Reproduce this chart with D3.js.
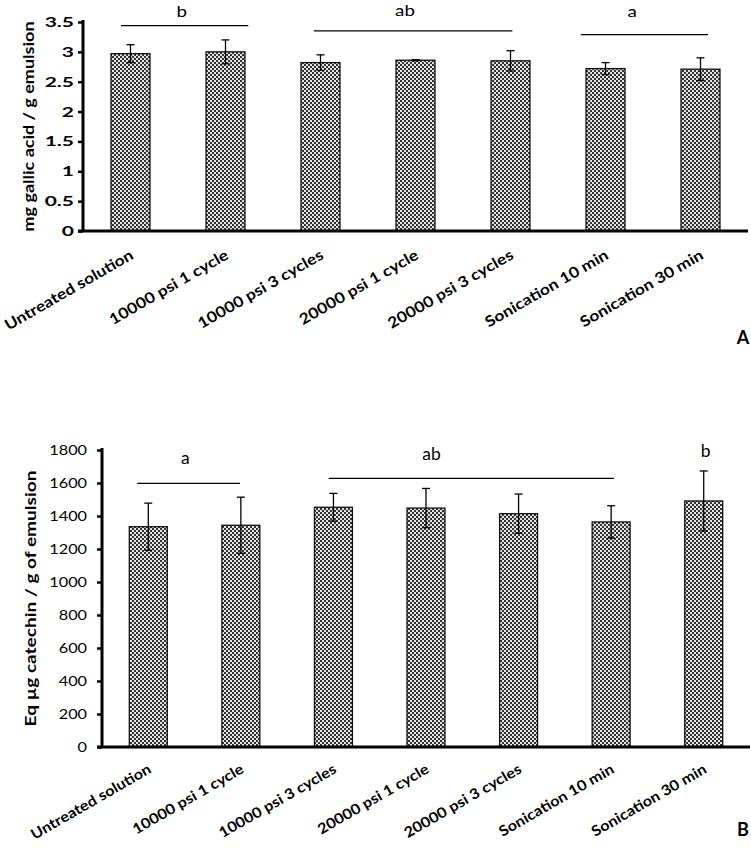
<!DOCTYPE html>
<html><head><meta charset="utf-8">
<script src="https://cdn.jsdelivr.net/npm/d3@7"></script>
<style>body{margin:0;background:#fff}svg{display:block}</style>
</head><body>
<script>
const categories = ["Untreated solution","10000 psi 1 cycle","10000 psi 3 cycles","20000 psi 1 cycle","20000 psi 3 cycles","Sonication 10 min","Sonication 30 min"];
const valuesA = [2.97, 3.00, 2.82, 2.86, 2.85, 2.72, 2.71];
const errorsA = [0.15, 0.20, 0.13, 0.01, 0.17, 0.10, 0.19];
const ticksA = [0, 0.5, 1, 1.5, 2, 2.5, 3, 3.5];
const valuesB = [1335, 1344, 1453, 1448, 1414, 1364, 1491];
const errorsB = [143, 170, 84, 119, 119, 98, 182];
const ticksB = [0, 200, 400, 600, 800, 1000, 1200, 1400, 1600, 1800];
// significance groups: fractional category index range, level (y units), label position
const sigA = [
  {label:"b", from:-0.1, to:1.24, level:3.44, tx:0.54, ty:3.58},
  {label:"ab", from:1.93, to:4.02, level:3.35, tx:2.89, ty:3.605},
  {label:"a", from:4.74, to:6.08, level:3.29, tx:5.28, ty:3.58}
];
const sigB = [
  {label:"a", from:-0.12, to:0.99, level:1598, tx:0.40, ty:1715},
  {label:"ab", from:1.95, to:5.03, level:1628, tx:3.06, ty:1739},
  {label:"b", from:null, to:null, level:null, tx:6.02, ty:1758}
];

const W = 751, H = 848;
const svg = d3.select("body").append("svg").attr("width", W).attr("height", H);
const defs = svg.append("defs");
const pat = defs.append("pattern").attr("id","chk").attr("patternUnits","userSpaceOnUse")
  .attr("width",4).attr("height",4);
pat.append("rect").attr("width",4).attr("height",4).attr("fill","#e4e4e4");
pat.append("rect").attr("x",0).attr("y",0).attr("width",2).attr("height",2).attr("fill","#333");
pat.append("rect").attr("x",2).attr("y",2).attr("width",2).attr("height",2).attr("fill","#333");

const FONT = "Lato, 'Open Sans', sans-serif";

function stretch(sel, k) {
  sel.each(function(){
    const n = this.getComputedTextLength();
    d3.select(this).attr("textLength", n*k).attr("lengthAdjust","spacingAndGlyphs");
  });
}

function panel(cfg) {
  const g = svg.append("g");
  const x = d3.scaleBand().domain(categories).range([cfg.x0, cfg.x1]).paddingInner(0.59).paddingOuter(0.295);
  const y = d3.scaleLinear().domain(cfg.domain).range([cfg.yBottom, cfg.yTop]);
  const idx = i => x(categories[0]) + x.bandwidth()/2 + i * x.step();

  // bars
  g.selectAll("rect.bar").data(cfg.values).join("rect").attr("class","bar")
    .attr("x",(d,i)=>x(categories[i])).attr("width",x.bandwidth())
    .attr("y",d=>y(d)).attr("height",d=>y(0)-y(d))
    .attr("fill","url(#chk)").attr("stroke","#111").attr("stroke-width",1.3);

  // error bars
  const eg = g.selectAll("g.err").data(cfg.values).join("g").attr("class","err")
    .attr("stroke","#000").attr("stroke-width",1.3);
  eg.append("line").attr("x1",(d,i)=>idx(i)).attr("x2",(d,i)=>idx(i))
    .attr("y1",(d,i)=>y(d+cfg.errors[i])).attr("y2",(d,i)=>y(d-cfg.errors[i]));
  eg.append("line").attr("x1",(d,i)=>idx(i)-4).attr("x2",(d,i)=>idx(i)+4)
    .attr("y1",(d,i)=>y(d+cfg.errors[i])).attr("y2",(d,i)=>y(d+cfg.errors[i]));
  eg.append("line").attr("x1",(d,i)=>idx(i)-4).attr("x2",(d,i)=>idx(i)+4)
    .attr("y1",(d,i)=>y(d-cfg.errors[i])).attr("y2",(d,i)=>y(d-cfg.errors[i]));

  // y axis
  const ya = g.append("g").attr("transform",`translate(${cfg.x0},0)`)
    .call(d3.axisLeft(y).tickValues(cfg.ticks).tickSize(5).tickPadding(cfg.tickPad).tickSizeOuter(0)
      .tickFormat(d=>String(d)));
  ya.select(".domain").remove();
  ya.selectAll(".tick line").attr("stroke","#000").attr("stroke-width",2.5);
  const tt = ya.selectAll(".tick text").attr("font-family",FONT).attr("font-size",cfg.tickSize)
    .attr("font-weight",cfg.tickWeight).attr("fill","#000");
  stretch(tt, cfg.tickK);
  g.append("line").attr("x1",cfg.x0).attr("x2",cfg.x0).attr("y1",y(cfg.domain[1])-2).attr("y2",cfg.yBottom)
    .attr("stroke","#000").attr("stroke-width",3);
  // x axis line
  g.append("line").attr("x1",cfg.x0-5).attr("x2",cfg.x1).attr("y1",cfg.yBottom).attr("y2",cfg.yBottom)
    .attr("stroke","#000").attr("stroke-width",3);

  // x labels
  const xl = g.selectAll("text.xl").data(categories).join("text").attr("class","xl")
    .attr("transform",(d,i)=>`translate(${idx(i)+4},${cfg.yBottom+cfg.labelDy}) rotate(-30)`)
    .attr("text-anchor","end").attr("font-family",FONT).attr("font-size",cfg.xSize)
    .attr("font-weight","bold").attr("fill","#000").text(d=>d);
  stretch(xl, cfg.xK);

  // y title
  const yt = g.append("text").attr("transform",`translate(${cfg.titleX},${(cfg.yBottom+cfg.yTop)/2}) rotate(-90)`)
    .attr("text-anchor","middle").attr("dominant-baseline","middle")
    .attr("font-family",FONT).attr("font-size",cfg.titleSize).attr("font-weight","bold").text(cfg.title);
  stretch(yt, cfg.titleK);

  // significance
  cfg.sig.forEach(s=>{
    if (s.from!==null) g.append("line").attr("x1",idx(s.from)).attr("x2",idx(s.to))
      .attr("y1",y(s.level)).attr("y2",y(s.level)).attr("stroke","#000").attr("stroke-width",1.2);
    const st = g.append("text").attr("x",idx(s.tx)).attr("y",y(s.ty)).attr("text-anchor","middle")
      .attr("font-family",FONT).attr("font-size",cfg.sigSize).attr("fill","#000").text(s.label);
    stretch(st, cfg.sigK);
  });

  // panel letter
  g.append("text").attr("x",cfg.letterX).attr("y",cfg.letterY).attr("text-anchor","middle")
    .attr("font-family",FONT).attr("font-size",18).attr("font-weight","bold").text(cfg.letter);
}

panel({x0:83, x1:748, yBottom:231, yTop:22, domain:[0,3.5], values:valuesA, errors:errorsA, ticks:ticksA,
  tickPad:4, tickSize:14, tickK:1.5, tickWeight:"bold", labelDy:27, xSize:15, xK:1.16, titleX:30, titleSize:15, titleK:1.2,
  sigSize:15, sigK:1.25,
  title:"mg gallic acid / g emulsion", sig:sigA, letter:"A", letterX:743, letterY:344});
panel({x0:102, x1:750, yBottom:747, yTop:450, domain:[0,1800], values:valuesB, errors:errorsB, ticks:ticksB,
  tickPad:10, tickSize:14, tickK:1.16, tickWeight:"normal", labelDy:25, xSize:14.5, xK:1.12, titleX:32, titleSize:15, titleK:1.27,
  sigSize:18, sigK:0.97,
  title:"Eq µg catechin / g of emulsion", sig:sigB, letter:"B", letterX:743, letterY:836});
</script>
</body></html>
